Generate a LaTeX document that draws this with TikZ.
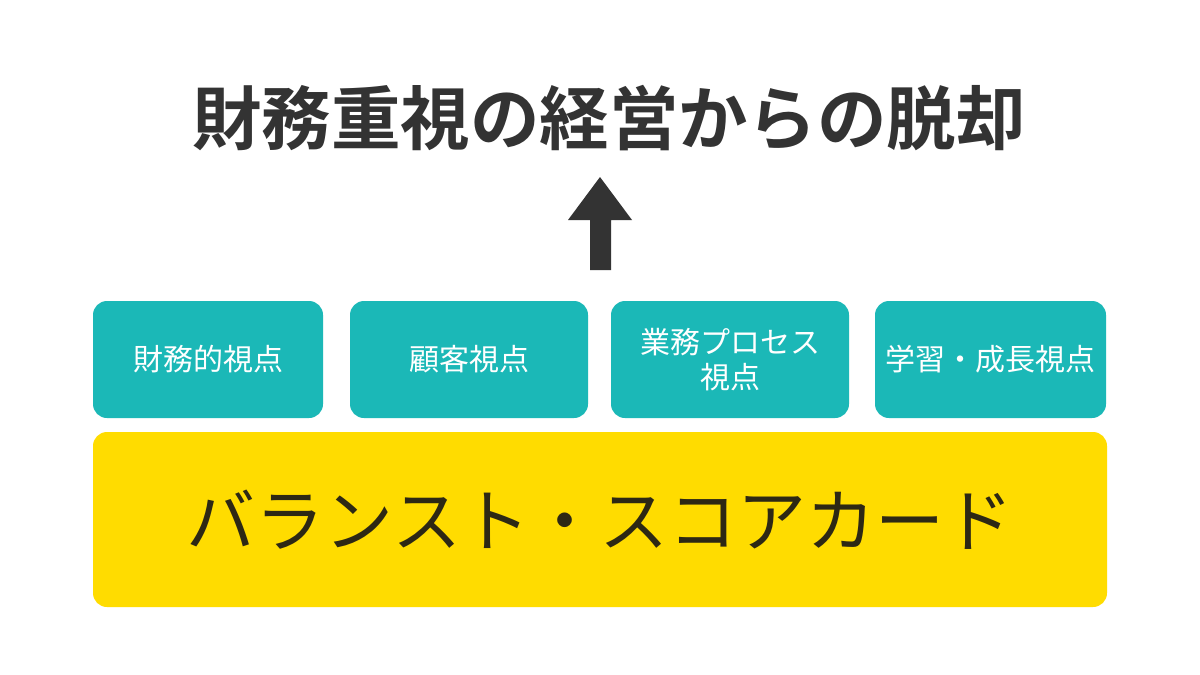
\documentclass[tikz,border=0pt]{standalone}
\usepackage{fontspec}
\newfontfamily\jpfont{Noto Sans CJK JP}
\newfontfamily\jpbold{Noto Sans CJK JP Bold}
\definecolor{tealbox}{RGB}{27,184,183}
\definecolor{yellowbox}{RGB}{255,220,0}
\definecolor{darktext}{RGB}{51,51,51}
\definecolor{bsctext}{RGB}{45,40,20}
\tikzset{every picture/.style={line width=0.75pt}}
\tikzset{
  viewbox/.style={fill=tealbox, rounded corners=14pt, minimum width=230pt, minimum height=117pt,
    text=white, align=center, font=\jpfont\fontsize{30}{35}\selectfont, inner sep=0pt},
}
\begin{document}
\begin{tikzpicture}[x=1pt,y=1pt,yscale=-1,xscale=1]
\useasboundingbox (0,0) rectangle (1200,675);
\fill[white] (0,0) rectangle (1200,675);

% Title
\node (title) at (609,118) {\jpbold\color{darktext}\fontsize{69.5}{74}\selectfont 財務重視の経営からの脱却};

% Up arrow
\fill[darktext] (590,270) -- (611,270) -- (611,220) -- (632,220) -- (600,177) -- (568,220) -- (590,220) -- cycle;

% Four perspectives
\node[viewbox] (finance) at (208,359.5) {財務的視点};
\node[viewbox, minimum width=238pt] (customer) at (469,359.5) {顧客視点};
\node[viewbox, minimum width=238pt] (process) at (730,359.5) {業務プロセス\\視点};
\node[viewbox, minimum width=231pt] (learning) at (990.5,359.5) {学習・成長視点};

% Balanced scorecard
\node[fill=yellowbox, rounded corners=14pt, minimum width=1014pt, minimum height=175pt, inner sep=0pt,
  font=\jpfont\fontsize{69}{75}\selectfont, text=bsctext] (bsc) at (600,519.5) {バランスト・スコアカード};
\end{tikzpicture}
\end{document}
